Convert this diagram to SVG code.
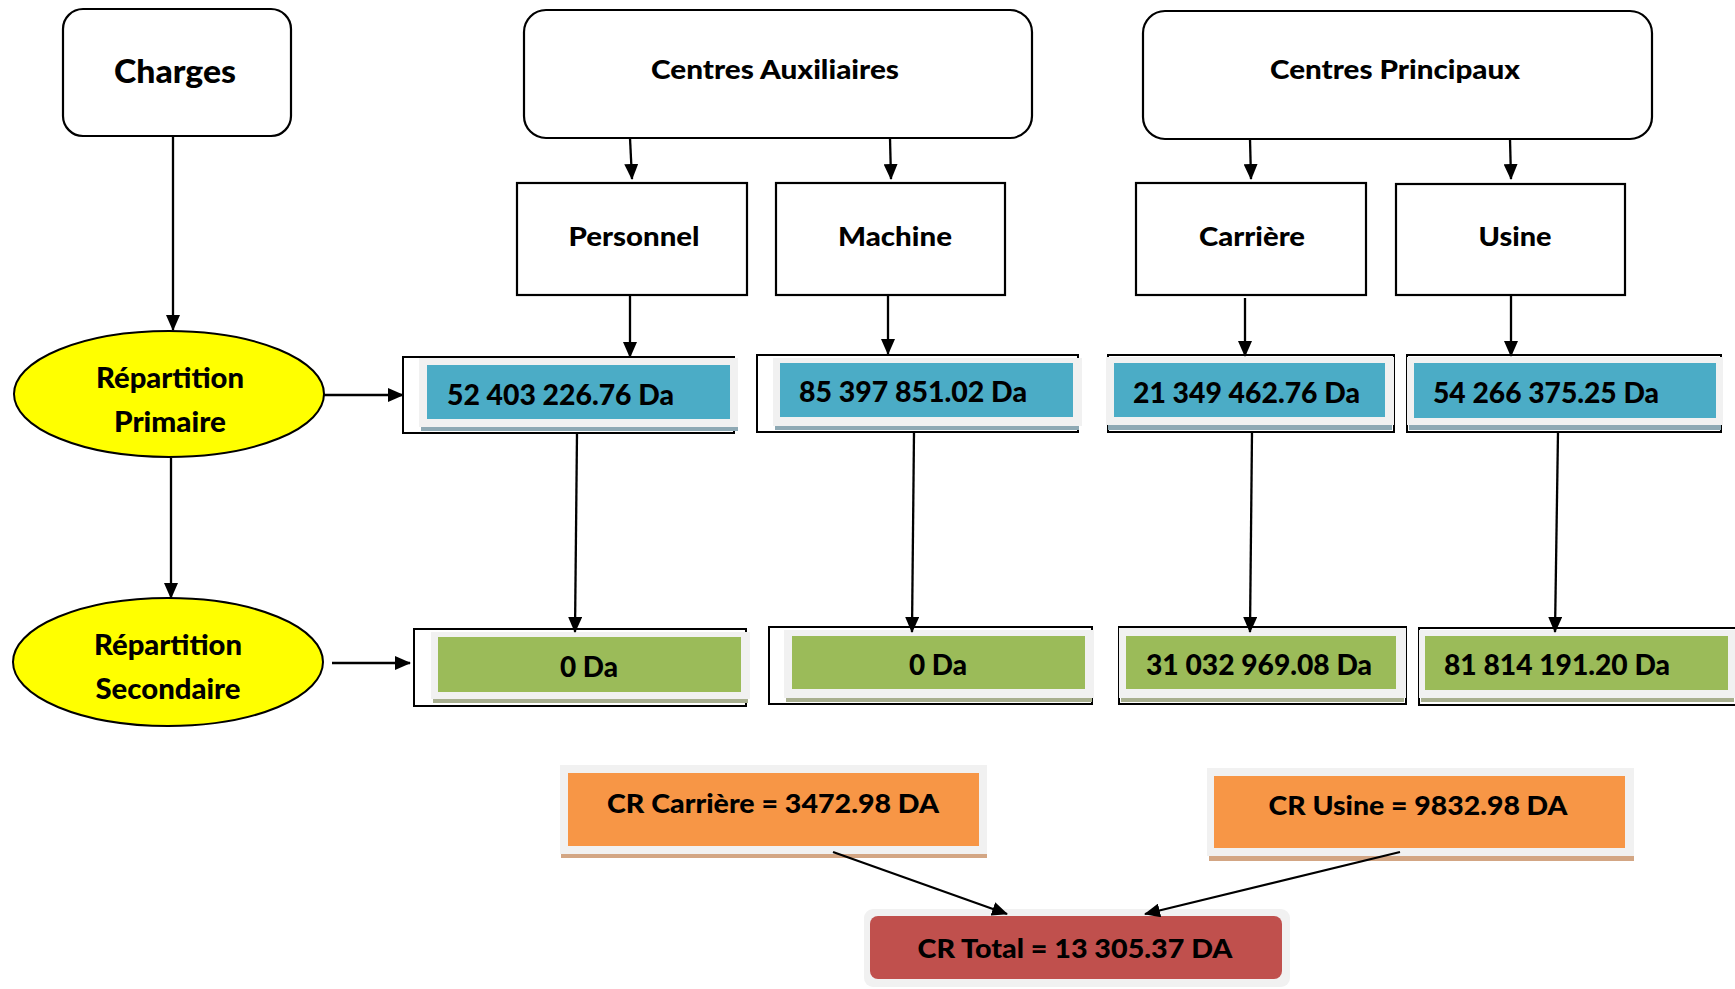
<svg xmlns="http://www.w3.org/2000/svg" width="1735" height="989" viewBox="0 0 1735 989">
<defs>
<marker id="ah" markerUnits="userSpaceOnUse" markerWidth="16" markerHeight="14" refX="15" refY="7" orient="auto"><path d="M0,0 L16,7 L0,14 Z" fill="#000"/></marker>
<style>
text{font-family:Lato,"Liberation Sans",sans-serif;font-weight:900;fill:#000}
.t{font-size:32px}
.h{font-size:26px}
.c{font-size:27px}
.e{font-size:28px}
.n{font-size:29px}
.r{font-size:27px}
.box{fill:#fff;stroke:#000;stroke-width:2.2}
.ell{fill:#ffff00;stroke:#000;stroke-width:2}
.frame{fill:none;stroke:#000;stroke-width:2}
.panel{fill:#f1f1f1}
.blue{fill:#4bacc6}
.green{fill:#9bbb59}
.orange{fill:#f79646}
.red{fill:#c0504d}
.shb{fill:#8ea9b4}
.shg{fill:#a8af8f}
.sho{fill:#d3a684}
.conn line{stroke:#000;stroke-width:2.3;marker-end:url(#ah)}
</style>
</defs>
<rect width="1735" height="989" fill="#fff"/>

<g id="charges"><rect class="box" x="63" y="9" width="228" height="127" rx="20"/><text class="t" x="175" y="83" text-anchor="middle" textLength="122" lengthAdjust="spacingAndGlyphs">Charges</text></g>
<g id="centres-aux"><rect class="box" x="524" y="10" width="508" height="128" rx="22"/><text class="h" x="775" y="79" text-anchor="middle" textLength="248" lengthAdjust="spacingAndGlyphs">Centres Auxiliaires</text></g>
<g id="centres-princ"><rect class="box" x="1143" y="11" width="509" height="128" rx="22"/><text class="h" x="1395" y="79" text-anchor="middle" textLength="250" lengthAdjust="spacingAndGlyphs">Centres Principaux</text></g>

<g id="personnel"><rect class="box" x="517" y="183" width="230" height="112"/><text class="c" x="634" y="246" text-anchor="middle" textLength="131" lengthAdjust="spacingAndGlyphs">Personnel</text></g>
<g id="machine"><rect class="box" x="776" y="183" width="229" height="112"/><text class="c" x="895" y="246" text-anchor="middle" textLength="114" lengthAdjust="spacingAndGlyphs">Machine</text></g>
<g id="carriere"><rect class="box" x="1136" y="183" width="230" height="112"/><text class="c" x="1252" y="246" text-anchor="middle" textLength="106" lengthAdjust="spacingAndGlyphs">Carrière</text></g>
<g id="usine"><rect class="box" x="1396" y="184" width="229" height="111"/><text class="c" x="1515" y="246" text-anchor="middle" textLength="73" lengthAdjust="spacingAndGlyphs">Usine</text></g>

<g id="rep-primaire"><ellipse class="ell" cx="169" cy="394" rx="155" ry="63"/><text class="e" x="170" y="388" text-anchor="middle" textLength="148" lengthAdjust="spacingAndGlyphs">Répartition</text><text class="e" x="170" y="432" text-anchor="middle" textLength="112" lengthAdjust="spacingAndGlyphs">Primaire</text></g>
<g id="rep-secondaire"><ellipse class="ell" cx="168" cy="662" rx="155" ry="64"/><text class="e" x="168" y="655" text-anchor="middle" textLength="148" lengthAdjust="spacingAndGlyphs">Répartition</text><text class="e" x="168" y="699" text-anchor="middle" textLength="145" lengthAdjust="spacingAndGlyphs">Secondaire</text></g>

<g id="p-personnel"><rect class="frame" x="403" y="357" width="331" height="76"/><rect class="panel" x="419" y="358" width="319" height="69"/><rect class="shb" x="421" y="427" width="317" height="4"/><rect class="blue" x="427" y="365" width="303" height="54"/><text class="n" x="447" y="405" textLength="227" lengthAdjust="spacingAndGlyphs">52 403 226.76 Da</text></g>
<g id="p-machine"><rect class="frame" x="757" y="355" width="321" height="77"/><rect class="panel" x="773" y="358" width="309" height="68"/><rect class="shb" x="775" y="426" width="304" height="4"/><rect class="blue" x="780" y="363" width="293" height="54"/><text class="n" x="799" y="402" textLength="228" lengthAdjust="spacingAndGlyphs">85 397 851.02 Da</text></g>
<g id="p-carriere"><rect class="frame" x="1108" y="355" width="286" height="77"/><rect class="panel" x="1106" y="357" width="288" height="68"/><rect class="shb" x="1108" y="425" width="284" height="5"/><rect class="blue" x="1114" y="363" width="271" height="54"/><text class="n" x="1133" y="403" textLength="227" lengthAdjust="spacingAndGlyphs">21 349 462.76 Da</text></g>
<g id="p-usine"><rect class="frame" x="1407" y="355" width="314" height="77"/><rect class="panel" x="1407" y="357" width="316" height="68"/><rect class="shb" x="1409" y="425" width="312" height="5"/><rect class="blue" x="1414" y="363" width="302" height="55"/><text class="n" x="1433" y="403" textLength="226" lengthAdjust="spacingAndGlyphs">54 266 375.25 Da</text></g>

<g id="s-personnel"><rect class="frame" x="414" y="629" width="332" height="77"/><rect class="panel" x="431" y="632" width="319" height="67"/><rect class="shg" x="433" y="699" width="315" height="4"/><rect class="green" x="438" y="637" width="303" height="55"/><text class="n" x="589" y="677" text-anchor="middle" textLength="58" lengthAdjust="spacingAndGlyphs">0 Da</text></g>
<g id="s-machine"><rect class="frame" x="769" y="627" width="323" height="77"/><rect class="panel" x="784" y="630" width="310" height="68"/><rect class="shg" x="786" y="698" width="306" height="4"/><rect class="green" x="792" y="636" width="293" height="53"/><text class="n" x="938" y="675" text-anchor="middle" textLength="58" lengthAdjust="spacingAndGlyphs">0 Da</text></g>
<g id="s-carriere"><rect class="frame" x="1119" y="627" width="287" height="77"/><rect class="panel" x="1119" y="628" width="287" height="70"/><rect class="shg" x="1121" y="698" width="283" height="4"/><rect class="green" x="1126" y="636" width="270" height="53"/><text class="n" x="1146" y="675" textLength="226" lengthAdjust="spacingAndGlyphs">31 032 969.08 Da</text></g>
<g id="s-usine"><rect class="frame" x="1419" y="628" width="320" height="77"/><rect class="panel" x="1419" y="630" width="316" height="68"/><rect class="shg" x="1421" y="698" width="313" height="4"/><rect class="green" x="1425" y="636" width="303" height="54"/><text class="n" x="1444" y="675" textLength="226" lengthAdjust="spacingAndGlyphs">81 814 191.20 Da</text></g>

<g id="cr-carriere"><rect class="panel" x="560" y="765" width="427" height="89"/><rect class="sho" x="561" y="854" width="426" height="4"/><rect class="orange" x="568" y="773" width="411" height="73"/><text class="r" x="773" y="813" text-anchor="middle" textLength="332" lengthAdjust="spacingAndGlyphs">CR Carrière = 3472.98 DA</text></g>
<g id="cr-usine"><rect class="panel" x="1207" y="768" width="427" height="88"/><rect class="sho" x="1209" y="856" width="425" height="5"/><rect class="orange" x="1214" y="776" width="411" height="72"/><text class="r" x="1418" y="815" text-anchor="middle" textLength="299" lengthAdjust="spacingAndGlyphs">CR Usine = 9832.98 DA</text></g>
<g id="cr-total"><rect class="panel" x="864" y="909" width="426" height="78" rx="9"/><rect class="red" x="870" y="916" width="412" height="63" rx="8"/><text class="r" x="1075" y="958" text-anchor="middle" textLength="315" lengthAdjust="spacingAndGlyphs">CR Total = 13 305.37 DA</text></g>

<g id="connectors" class="conn">
<line x1="173" y1="136" x2="173" y2="330"/>
<line x1="324" y1="395" x2="403" y2="395"/>
<line x1="171" y1="458" x2="171" y2="598"/>
<line x1="332" y1="663" x2="410" y2="663"/>
<line x1="630" y1="138" x2="632" y2="179"/>
<line x1="890" y1="138" x2="891" y2="179"/>
<line x1="1250" y1="139" x2="1251" y2="179"/>
<line x1="1510" y1="139" x2="1511" y2="179"/>
<line x1="630" y1="295" x2="630" y2="357"/>
<line x1="888" y1="295" x2="888" y2="354"/>
<line x1="1245" y1="298" x2="1245" y2="356"/>
<line x1="1511" y1="295" x2="1511" y2="356"/>
<line x1="577" y1="433" x2="575" y2="632"/>
<line x1="914" y1="432" x2="912" y2="632"/>
<line x1="1252" y1="432" x2="1250" y2="632"/>
<line x1="1558" y1="432" x2="1555" y2="632"/>
<line x1="833" y1="852" x2="1007" y2="914"/>
<line x1="1400" y1="852" x2="1145" y2="914"/>
</g>
</svg>
